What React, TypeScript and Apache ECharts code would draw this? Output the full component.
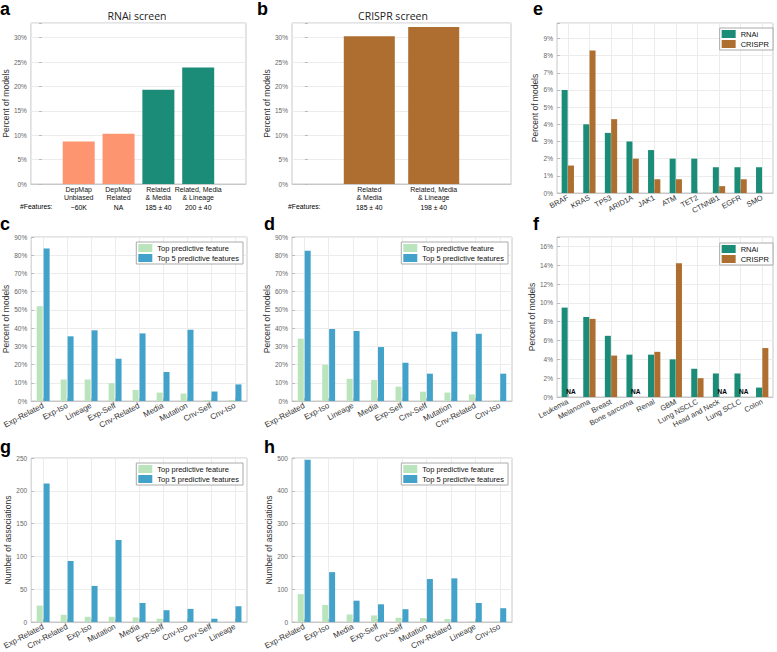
import React, { useEffect, useRef } from 'react';
import * as echarts from 'echarts';

const FONT = '"Liberation Sans", Arial, sans-serif';

// ---- Panel a: RNAi screen
const aLabels = ['DepMap\nUnbiased', 'DepMap\nRelated', 'Related\n& Media', 'Related, Media\n& Lineage'];
const aFeatures = ['~60K', 'NA', '185 ± 40', '200 ± 40'];
const aValues = [8.7, 10.3, 19.3, 23.9];

// ---- Panel b: CRISPR screen
const bLabels = ['Related\n& Media', 'Related, Media\n& Lineage'];
const bFeatures = ['185 ± 40', '198 ± 40'];
const bValues = [30.3, 32.2];

// ---- Panel e: genes
const eGenes = ['BRAF', 'KRAS', 'TP53', 'ARID1A', 'JAK1', 'ATM', 'TET2', 'CTNNB1', 'EGFR', 'SMO'];
const eRNAi = [6.0, 4.0, 3.5, 3.0, 2.5, 2.0, 2.0, 1.5, 1.5, 1.5];
const eCRISPR = [1.6, 8.3, 4.3, 2.0, 0.8, 0.8, 0, 0.4, 0.8, 0];

// ---- Panel c: RNAi feature types (% of models)
const cCats = ['Exp-Related', 'Exp-Iso', 'Lineage', 'Exp-Self', 'Cnv-Related', 'Media', 'Mutation', 'Cnv-Self', 'Cnv-Iso'];
const cTop = [52.0, 11.8, 11.8, 9.8, 6.1, 4.6, 4.1, 0.5, 0.5];
const cTop5 = [83.7, 35.5, 38.8, 23.2, 37.1, 15.9, 39.1, 5.2, 9.1];

// ---- Panel d: CRISPR feature types (% of models)
const dCats = ['Exp-Related', 'Exp-Iso', 'Lineage', 'Media', 'Exp-Self', 'Cnv-Self', 'Mutation', 'Cnv-Related', 'Cnv-Iso'];
const dTop = [34.2, 19.9, 12.2, 11.5, 7.9, 5.1, 4.6, 3.6, 0.4];
const dTop5 = [82.4, 39.5, 38.4, 29.6, 21.0, 15.0, 38.0, 36.9, 15.0];

// ---- Panel f: lineages
const fTypes = ['Leukemia', 'Melanoma', 'Breast', 'Bone sarcoma', 'Renal', 'GBM', 'Lung NSCLC', 'Head and Neck', 'Lung SCLC', 'Colon'];
const fRNAi = [9.5, 8.5, 6.5, 4.5, 4.5, 4.0, 3.0, 2.5, 2.5, 1.0];
const fCRISPR: (number | null)[] = [null, 8.3, 4.4, null, 4.8, 14.2, 2.0, null, null, 5.2];

// ---- Panel g: RNAi associations
const gCats = ['Exp-Related', 'Cnv-Related', 'Exp-Iso', 'Mutation', 'Media', 'Exp-Self', 'Cnv-Iso', 'Cnv-Self', 'Lineage'];
const gTop = [25, 11, 8, 8, 7, 5, 0.5, 0, 0];
const gTop5 = [211, 93, 55, 125, 29, 18, 20, 5, 24];

// ---- Panel h: CRISPR associations
const hCats = ['Exp-Related', 'Exp-Iso', 'Media', 'Exp-Self', 'Cnv-Self', 'Mutation', 'Cnv-Related', 'Lineage', 'Cnv-Iso'];
const hTop = [85, 52, 23, 20, 13, 12, 9, 2, 1];
const hTop5 = [495, 152, 65, 54, 39, 131, 133, 58, 42];

const SALMON = '#fc9570';
const TEAL = '#1a8c77';
const BROWN = '#ad6e2f';
const LGREEN = '#bae4bc';
const BLUE = '#43a2ca';

const TOP1 = 'Top predictive feature';
const TOP5 = 'Top 5 predictive features';

const near = (v: number, step: number) => Math.abs(v / step - Math.round(v / step)) < 1e-6;

function yAxis(gridIndex: number, max: number, interval: number, pct: boolean, name: string, nameGap: number) {
  return {
    type: 'value',
    gridIndex,
    min: 0,
    max,
    interval,
    name,
    nameLocation: 'middle',
    nameGap,
    nameTextStyle: { fontSize: 8.5, color: '#333', fontFamily: FONT },
    axisLine: { show: false },
    axisTick: { show: true, inside: true, length: 3, lineStyle: { color: '#bbb' } },
    splitLine: { show: true, lineStyle: { color: '#ececec', width: 1 } },
    axisLabel: {
      fontSize: 6.5,
      color: '#666',
      margin: 4,
      fontFamily: FONT,
      formatter: (v: number) => (near(v, interval) ? `${Math.round(v)}${pct ? '%' : ''}` : ''),
    },
  };
}

function catAxis(gridIndex: number, data: string[], fontSize = 8, rotate = 28) {
  return {
    type: 'category',
    gridIndex,
    data,
    axisLine: { show: true, lineStyle: { color: '#c8c8c8' } },
    axisTick: { show: true, inside: true, alignWithLabel: true, length: 3, lineStyle: { color: '#bbb' } },
    splitLine: { show: true, alignWithLabel: true, lineStyle: { color: '#ececec' } },
    axisLabel: { interval: 0, rotate, fontSize, color: '#333', margin: 4, fontFamily: FONT },
  };
}

function valueXAxis(gridIndex: number, max: number, labels: string[], features: string[]) {
  const customValues = labels.map((_, i) => i + 1);
  return {
    type: 'value',
    gridIndex,
    min: -0.2,
    max,
    splitNumber: 5,
    axisLine: { show: true, lineStyle: { color: '#c8c8c8' } },
    axisTick: { show: false },
    splitLine: { show: false },
    axisLabel: {
      customValues,
      margin: 1,
      hideOverlap: false,
      formatter: (v: number) => {
        const r = Math.round(v);
        if (Math.abs(v - r) > 1e-6 || r < 1 || r > labels.length) return '';
        const [l1, l2] = labels[r - 1].split('\n');
        return `{n|${l1}}\n{n|${l2}}\n{f|${features[r - 1]}}`;
      },
      rich: {
        n: { fontSize: 7, lineHeight: 8, color: '#111', fontFamily: FONT },
        f: { fontSize: 6.8, lineHeight: 12, color: '#000', fontFamily: FONT },
      },
    },
  };
}

const gridBase = { show: true, borderColor: '#c8c8c8', borderWidth: 1, containLabel: false };

const legendBase = {
  orient: 'vertical',
  icon: 'rect',
  itemWidth: 14,
  itemHeight: 8,
  itemGap: 2,
  padding: [2, 4, 2, 2],
  borderColor: '#aaa',
  borderWidth: 1,
  borderRadius: 0,
  backgroundColor: '#fff',
  selectedMode: false,
  textStyle: { fontSize: 7.5, color: '#111', fontFamily: FONT },
};

function pairSeries(xi: number, n1: string, d1: any[], c1: string, n2: string, d2: any[], c2: string) {
  return [
    { type: 'bar', name: n1, xAxisIndex: xi, yAxisIndex: xi, data: d1, barWidth: 6, barGap: '15%', itemStyle: { color: c1 } },
    { type: 'bar', name: n2, xAxisIndex: xi, yAxisIndex: xi, data: d2, barWidth: 6, barGap: '15%', itemStyle: { color: c2 } },
  ];
}

const letter = (t: string, x: number, y: number) => ({
  type: 'text',
  x,
  y,
  style: { text: t, fontSize: 18, fontWeight: 'bold', fontFamily: FONT, fill: '#000', verticalAlign: 'top', align: 'left' },
});

const note = (t: string, x: number, y: number, size: number, family: string, align = 'left', fill = '#000') => ({
  type: 'text',
  x,
  y,
  style: { text: t, fontSize: size, fontFamily: family, fill, verticalAlign: 'middle', align },
});

export default function App() {
  const ref = useRef<HTMLDivElement>(null);

  useEffect(() => {
    if (!ref.current) return;
    const chart = echarts.init(ref.current, undefined, { renderer: 'svg' });

    const naLabel = { show: true, formatter: 'NA', position: 'top', distance: 2, fontSize: 6.5, fontWeight: 'bold', color: '#000', fontFamily: FONT };
    const fCrisprData = fCRISPR.map((v) => (v === null ? { value: 0, label: naLabel } : v));

    const option: any = {
      animation: false,
      backgroundColor: '#fff',
      textStyle: { fontFamily: FONT },
      grid: [
        { ...gridBase, left: 27, top: 23, width: 219, height: 161 }, // a
        { ...gridBase, left: 292, top: 23, width: 219, height: 161 }, // b
        { ...gridBase, left: 557, top: 23, width: 216, height: 170 }, // e
        { ...gridBase, left: 27, top: 237, width: 220, height: 164 }, // c
        { ...gridBase, left: 292, top: 237, width: 220, height: 164 }, // d
        { ...gridBase, left: 557, top: 237, width: 216, height: 160 }, // f
        { ...gridBase, left: 27, top: 458, width: 220, height: 164 }, // g
        { ...gridBase, left: 292, top: 458, width: 220, height: 164 }, // h
      ],
      xAxis: [
        valueXAxis(0, 5.2, aLabels, aFeatures),
        valueXAxis(1, 3.2, bLabels, bFeatures),
        catAxis(2, eGenes, 7.5, 28),
        catAxis(3, cCats),
        catAxis(4, dCats),
        catAxis(5, fTypes, 7.5, 28),
        catAxis(6, gCats),
        catAxis(7, hCats),
      ],
      yAxis: [
        yAxis(0, 33, 5, true, 'Percent of models', 17),
        yAxis(1, 33, 5, true, 'Percent of models', 17),
        yAxis(2, 9.9, 1, true, 'Percent of models', 13),
        yAxis(3, 90, 10, true, 'Percent of models', 17),
        yAxis(4, 90, 10, true, 'Percent of models', 16),
        yAxis(5, 17, 2, true, 'Percent of models', 16),
        yAxis(6, 250, 50, false, 'Number of associations', 14),
        yAxis(7, 500, 100, false, 'Number of associations', 13),
      ],
      legend: [
        { ...legendBase, data: ['RNAi', 'CRISPR'], right: 4, top: 28 },
        { ...legendBase, data: ['RNAi', 'CRISPR'], right: 4, top: 243 },
        { ...legendBase, data: [TOP1, TOP5], right: 534, top: 242 },
        { ...legendBase, data: [TOP1, TOP5], right: 269, top: 242 },
        { ...legendBase, data: [TOP1, TOP5], right: 534, top: 463 },
        { ...legendBase, data: [TOP1, TOP5], right: 269, top: 463 },
      ],
      series: [
        {
          type: 'bar',
          name: 'a',
          xAxisIndex: 0,
          yAxisIndex: 0,
          barWidth: 32,
          data: aValues.map((v, i) => [i + 1, v]),
          itemStyle: { color: (p: any) => (p.dataIndex < 2 ? SALMON : TEAL) },
        },
        {
          type: 'bar',
          name: 'b',
          xAxisIndex: 1,
          yAxisIndex: 1,
          barWidth: 51,
          data: bValues.map((v, i) => [i + 1, v]),
          itemStyle: { color: BROWN },
        },
        { type: 'bar', name: 'RNAi', xAxisIndex: 2, yAxisIndex: 2, data: eRNAi, barWidth: 6, barGap: '5%', itemStyle: { color: TEAL } },
        { type: 'bar', name: 'CRISPR', xAxisIndex: 2, yAxisIndex: 2, data: eCRISPR, barWidth: 6, barGap: '5%', itemStyle: { color: BROWN } },
        ...pairSeries(3, TOP1, cTop, LGREEN, TOP5, cTop5, BLUE),
        ...pairSeries(4, TOP1, dTop, LGREEN, TOP5, dTop5, BLUE),
        { type: 'bar', name: 'RNAi', xAxisIndex: 5, yAxisIndex: 5, data: fRNAi, barWidth: 6, barGap: '5%', itemStyle: { color: TEAL } },
        { type: 'bar', name: 'CRISPR', xAxisIndex: 5, yAxisIndex: 5, data: fCrisprData, barWidth: 6, barGap: '5%', itemStyle: { color: BROWN } },
        ...pairSeries(6, TOP1, gTop, LGREEN, TOP5, gTop5, BLUE),
        ...pairSeries(7, TOP1, hTop, LGREEN, TOP5, hTop5, BLUE),
      ],
      graphic: [
        letter('a', 0, 0),
        letter('b', 257, 0),
        letter('e', 533, 0),
        letter('c', 0, 215),
        letter('d', 264, 215),
        letter('f', 533, 215),
        letter('g', 0, 438),
        letter('h', 264, 438),
        note('RNAi screen', 137, 16, 10.5, '"Open Sans", sans-serif', 'center', '#222'),
        note('CRISPR screen', 393, 16, 10.5, '"Open Sans", sans-serif', 'center', '#222'),
        note('#Features:', 20, 206, 6.8, FONT),
        note('#Features:', 288, 206, 6.8, FONT),
      ],
    };

    chart.setOption(option);
    return () => chart.dispose();
  }, []);

  return <div ref={ref} style={{ position: 'absolute', left: 0, top: 0, width: 777, height: 652, background: '#fff' }} />;
}
